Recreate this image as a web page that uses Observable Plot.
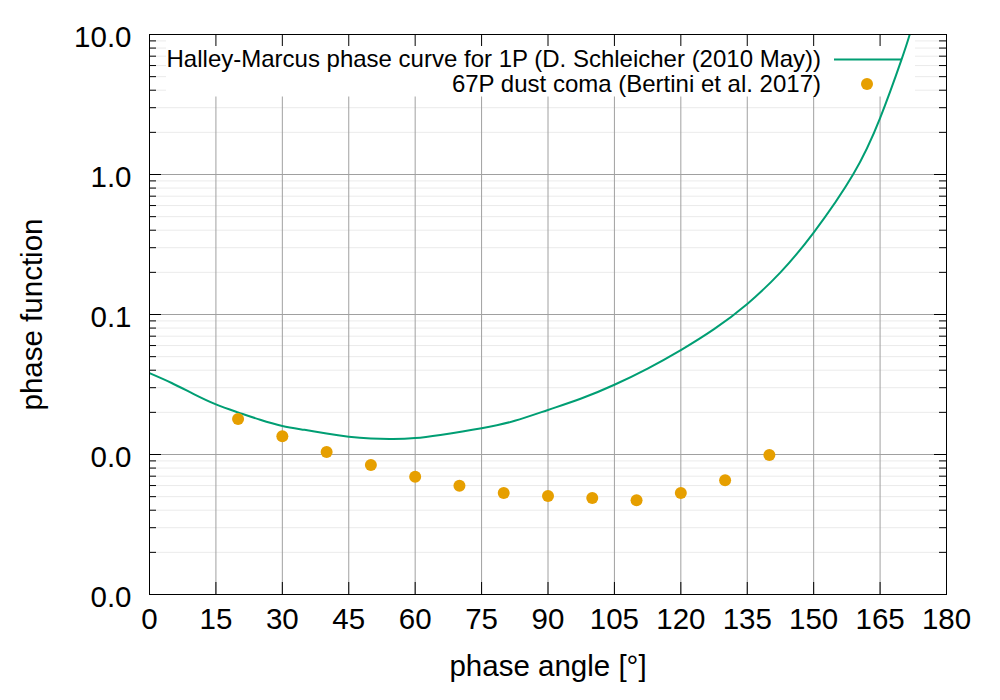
<!DOCTYPE html>
<html><head><meta charset="utf-8">
<script src="https://cdn.jsdelivr.net/npm/d3@7"></script>
<script src="https://cdn.jsdelivr.net/npm/@observablehq/plot@0.6"></script>
<style>
body{margin:0;background:#fff;}
#chart svg{display:block;}
</style></head><body><div id="chart"></div>
<script>
// Halley-Marcus phase curve
const curveAngle = [0,5,10,15,20,25,30,35,40,45,50,55,60,65.7,75,82.5,90,97.5,105,112.5,120,127.5,135,142.5,150,158.9,165,169.8,171.7];
const curveValue = [0.0381,0.0324,0.0270,0.0228,0.0200,0.0177,0.0160,0.0150,0.0141,0.0134,0.0130,0.0129,0.0131,0.0138,0.0154,0.0174,0.0208,0.0251,0.0315,0.0411,0.0557,0.0786,0.119,0.200,0.385,1.0,2.53,6.56,10.0];
// 67P dust coma points
const comaAngle = [20,30,40,50,60,70,80,90,100,110,120,130,140];
const comaValue = [0.0179,0.0135,0.0104,0.0084,0.00693,0.00597,0.0053,0.00505,0.00489,0.00472,0.0053,0.00656,0.00991];
// ticks
const xTicks = [0,15,30,45,60,75,90,105,120,135,150,165,180];
const yTicks = [0.001,0.01,0.1,1,10];
const yTickLabels = ["0.0","0.0","0.1","1.0","10.0"];
const seriesNames = ["Halley-Marcus phase curve for 1P (D. Schleicher (2010 May))","67P dust coma (Bertini et al. 2017)"];
const xLabel = "phase angle [°]";
const yLabel = "phase function";

const W = 1000, H = 700, mL = 149, mR = 54, mT = 34, mB = 106;
const innerW = W - mL - mR, innerH = H - mT - mB;
const FONT = "'Liberation Sans', Arial, Helvetica, sans-serif";
const FS = 29.5;
const GREEN = "#009e73", ORANGE = "#e69f00";

const curve = curveAngle.map((a, i) => ({a, v: curveValue[i]}));
const coma = comaAngle.map((a, i) => ({a, v: comaValue[i]}));
const yLab = yTicks.map((v, i) => ({v, t: yTickLabels[i]}));
const minorY = [];
for (const e of [-3, -2, -1, 0]) for (let k = 2; k <= 9; k++) minorY.push(+(k * Math.pow(10, e)).toPrecision(3));

function legendBox(index, scales, values, dims) {
  const g = d3.create("svg:g");
  g.append("rect")
    .attr("x", dims.marginLeft + 17).attr("y", dims.marginTop + 0.5)
    .attr("width", dims.width - dims.marginLeft - dims.marginRight - 17 - 31)
    .attr("height", 62).attr("fill", "white");
  return g.node();
}
function legendItems(index, scales, values, dims) {
  const g = d3.create("svg:g").attr("font-family", FONT).attr("font-size", 24).attr("fill", "black");
  const right = dims.width - dims.marginRight;
  const tx = right - 125;
  g.append("text").attr("x", tx).attr("y", dims.marginTop + 33).attr("text-anchor", "end").text(seriesNames[0]);
  g.append("line").attr("x1", tx + 13).attr("x2", tx + 80)
    .attr("y1", dims.marginTop + 25.5).attr("y2", dims.marginTop + 25.5)
    .attr("stroke", GREEN).attr("stroke-width", 2);
  g.append("text").attr("x", tx).attr("y", dims.marginTop + 58).attr("text-anchor", "end").text(seriesNames[1]);
  g.append("circle").attr("cx", tx + 46).attr("cy", dims.marginTop + 50).attr("r", 6).attr("fill", ORANGE);
  return g.node();
}

const chart = Plot.plot({
  width: W, height: H,
  marginLeft: mL, marginRight: mR, marginTop: mT, marginBottom: mB,
  style: {fontFamily: FONT, background: "white", color: "black"},
  x: {domain: [0, 180], axis: null},
  y: {type: "log", domain: [0.001, 10], axis: null},
  marks: [
    Plot.ruleY(minorY, {y: d => d, stroke: "#ebebeb"}),
    Plot.ruleY(yTicks.slice(1, -1), {y: d => d, stroke: "#a0a0a0"}),
    Plot.ruleX(xTicks.slice(1, -1), {x: d => d, stroke: "#a0a0a0"}),
    legendBox,
    Plot.line(curve, {x: "a", y: "v", stroke: GREEN, strokeWidth: 2, curve: "natural", clip: true}),
    Plot.dot(coma, {x: "a", y: "v", r: 6, fill: ORANGE, stroke: null}),
    legendItems,
    // tick marks (mirrored on all sides)
    Plot.tickY(yTicks, {y: d => d, insetRight: innerW - 12, stroke: "black"}),
    Plot.tickY(yTicks, {y: d => d, insetLeft: innerW - 12, stroke: "black"}),
    Plot.tickY(minorY, {y: d => d, insetRight: innerW - 7, stroke: "black"}),
    Plot.tickY(minorY, {y: d => d, insetLeft: innerW - 7, stroke: "black"}),
    Plot.tickX(xTicks, {x: d => d, insetTop: innerH - 12, stroke: "black"}),
    Plot.tickX(xTicks, {x: d => d, insetBottom: innerH - 12, stroke: "black"}),
    Plot.frame({stroke: "black"}),
    // tick labels
    Plot.text(xTicks, {x: d => d, text: d => String(d), frameAnchor: "bottom", dy: 34.3, fontSize: FS, fill: "black"}),
    Plot.text(yLab, {y: "v", text: "t", frameAnchor: "left", textAnchor: "end", dx: -18, dy: 2.6, fontSize: FS, fill: "black"}),
    // axis titles
    Plot.text([xLabel], {text: d => d, frameAnchor: "bottom", textAnchor: "middle", dy: 81.6, fontSize: FS, fill: "black"}),
    Plot.text([yLabel], {text: d => d, frameAnchor: "left", textAnchor: "middle", dx: -116.7, rotate: -90, fontSize: FS, fill: "black"})
  ]
});
document.getElementById("chart").appendChild(chart);
</script>
</body></html>
